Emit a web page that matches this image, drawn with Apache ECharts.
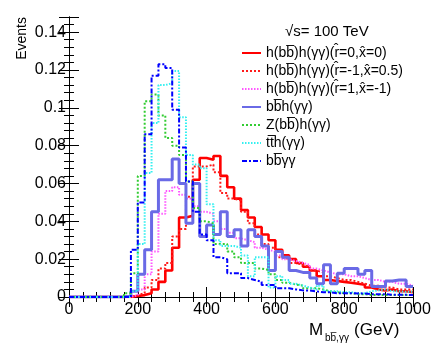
<!DOCTYPE html>
<html>
<head>
<meta charset="utf-8">
<script src="https://cdn.jsdelivr.net/npm/echarts@6/dist/echarts.min.js"></script>
<style>
  html, body { margin: 0; padding: 0; background: #fff; }
  #main { width: 436px; height: 354px; }
</style>
</head>
<body>
<div id="main"></div>
<script>
// bins of 20 GeV from 0 to 1000
const binWidth = 20;
const xMin = 0;
const xMax = 1000;

const seriesNames = [
  'h(bb\u0305)h(\u03b3\u03b3)(r\u0302=0,x\u0302=0)',
  'h(bb\u0305)h(\u03b3\u03b3)(r\u0302=-1,x\u0302=0.5)',
  'h(bb\u0305)h(\u03b3\u03b3)(r\u0302=1,x\u0302=-1)',
  'bb\u0305h(\u03b3\u03b3)',
  'Z(bb\u0305)h(\u03b3\u03b3)',
  'tt\u0305h(\u03b3\u03b3)',
  'bb\u0305\u03b3\u03b3'
];

// normalised event fractions per bin
const hhR0X0 = [0, 0, 0, 0, 0, 0, 0, 0, 0, 0.0005,
  0.001, 0.002, 0.004, 0.008, 0.014, 0.026, 0.042, 0.043, 0.062, 0.0735,
  0.0725, 0.0745, 0.064, 0.058, 0.052, 0.046, 0.042, 0.037, 0.033, 0.030,
  0.025, 0.022, 0.020, 0.018, 0.016, 0.014, 0.011, 0.009, 0.0085, 0.008,
  0.0075, 0.007, 0.0065, 0.005, 0.004, 0.0035, 0.004, 0.003, 0.003, 0.0025];

const hhRm1X05 = [0, 0, 0, 0, 0, 0, 0, 0, 0, 0.001,
  0.002, 0.005, 0.009, 0.015, 0.018, 0.032, 0.036, 0.053, 0.069, 0.069,
  0.070, 0.066, 0.055, 0.052, 0.051, 0.045, 0.039, 0.033, 0.028, 0.026,
  0.021, 0.020, 0.018, 0.017, 0.016, 0.014, 0.013, 0.011, 0.010, 0.009,
  0.009, 0.008, 0.007, 0.006, 0.006, 0.005, 0.005, 0.004, 0.004, 0.004];

const hhR1Xm1 = [0, 0, 0, 0, 0, 0, 0, 0, 0, 0.001,
  0.004, 0.012, 0.024, 0.044, 0.056, 0.058, 0.054, 0.052, 0.048, 0.045,
  0.044, 0.040, 0.036, 0.034, 0.031, 0.030, 0.029, 0.026, 0.025, 0.024,
  0.022, 0.020, 0.019, 0.018, 0.017, 0.015, 0.014, 0.013, 0.012, 0.012,
  0.011, 0.011, 0.010, 0.009, 0.009, 0.008, 0.008, 0.007, 0.007, 0.006];

const bbh = [0, 0, 0, 0, 0, 0, 0, 0, 0.001, 0.003,
  0.012, 0.025, 0.045, 0.062, 0.062, 0.073, 0.060, 0.039, 0.060, 0.032,
  0.038, 0.033, 0.045, 0.032, 0.0355, 0.027, 0.0355, 0.032, 0.027, 0.014,
  0.024, 0.021, 0.014, 0.013, 0.013, 0.010, 0.007, 0.017, 0.007, 0.0125,
  0.015, 0.015, 0.012, 0.014, 0.0055, 0.0055, 0.0085, 0.009, 0.009, 0.0055];

const zh = [0, 0, 0, 0, 0, 0, 0, 0, 0.002, 0.0125,
  0.064, 0.1035, 0.107, 0.096, 0.084, 0.080, 0.075, 0.061, 0.047, 0.040,
  0.039, 0.028, 0.028, 0.024, 0.021, 0.018, 0.018, 0.015, 0.0143, 0.012,
  0.009, 0.0075, 0.0065, 0.006, 0.0046, 0.0046, 0.004, 0.003, 0.0025, 0.002,
  0.002, 0.0015, 0.0015, 0.001, 0.001, 0.001, 0.001, 0.001, 0.001, 0.001];

const tth = [0, 0, 0, 0, 0, 0, 0, 0, 0, 0.003,
  0.028, 0.0656, 0.092, 0.112, 0.113, 0.1195, 0.095, 0.075, 0.070, 0.068,
  0.049, 0.030, 0.027, 0.027, 0.026, 0.022, 0.011, 0.021, 0.021, 0.005,
  0.011, 0.009, 0.007, 0.006, 0.005, 0.004, 0.006, 0.003, 0.003, 0.0025,
  0.0025, 0.002, 0.002, 0.003, 0.0035, 0.004, 0.003, 0.003, 0.0028, 0.0028];

const bbgg = [0, 0, 0, 0, 0, 0, 0, 0, 0, 0.025,
  0.050, 0.086, 0.117, 0.123, 0.121, 0.099, 0.079, 0.061, 0.045, 0.033,
  0.030, 0.021, 0.020, 0.0125, 0.0125, 0.010, 0.009, 0.008, 0.0064, 0.0064,
  0.0046, 0.0046, 0.004, 0.0035, 0.0034, 0.003, 0.0025, 0.0025, 0.002, 0.002,
  0.002, 0.0018, 0.0018, 0.0015, 0.0015, 0.0015, 0.0012, 0.0012, 0.0012, 0.001];

const yTickLabels = ['0', '0.02', '0.04', '0.06', '0.08', '0.1', '0.12', '0.14'];
const xTickLabels = ['0', '200', '400', '600', '800', '1000'];

// histogram -> step line points (left edge of each bin, plus closing edge)
function toSteps(vals) {
  const pts = vals.map((v, i) => [xMin + i * binWidth, v]);
  pts.push([xMin + vals.length * binWidth, vals[vals.length - 1]]);
  return pts;
}

const styles = [
  { color: '#ff0000', width: 2.6, type: 'solid' },
  { color: '#ff1a1a', width: 2, type: [2, 2] },
  { color: '#ff55ff', width: 2, type: [1.5, 1.5] },
  { color: '#6a6ae6', width: 3, type: 'solid' },
  { color: '#33cc33', width: 2, type: [2, 2] },
  { color: '#33f0f0', width: 2, type: [1.5, 1.5] },
  { color: '#0000ff', width: 2, type: [5, 2, 2, 2] }
];
const allData = [hhR0X0, hhRm1X05, hhR1Xm1, bbh, zh, tth, bbgg];

const font = 'Liberation Sans, Arial, sans-serif';
const myChart = echarts.init(document.getElementById('main'));

const tickCommon = {
  axisLine: { show: true, lineStyle: { color: '#000', width: 1 } },
  splitLine: { show: false },
  minorSplitLine: { show: false }
};

const option = {
  animation: false,
  grid: { left: 69, right: 23, top: 17, bottom: 57 },
  legend: {
    orient: 'vertical',
    left: 236,
    top: 41,
    itemWidth: 19,
    itemHeight: 10,
    itemGap: 4,
    itemStyle: { opacity: 0 },
    textStyle: { fontFamily: font, fontSize: 14, color: '#000' },
    data: seriesNames
  },
  xAxis: [
    Object.assign({
      type: 'value', min: xMin, max: xMax, interval: 200, position: 'bottom',
      axisTick: { show: true, inside: true, length: 10, lineStyle: { color: '#000' } },
      minorTick: { show: true, splitNumber: 5, length: 5, lineStyle: { color: '#000' } },
      axisLabel: {
        fontFamily: font, fontSize: 16, color: '#000', margin: 5,
        formatter: (v) => xTickLabels[Math.round(v / 200)] ?? ''
      }
    }, tickCommon),
    Object.assign({
      type: 'value', min: xMin, max: xMax, interval: 200, position: 'top',
      axisTick: { show: true, inside: true, length: 10, lineStyle: { color: '#000' } },
      minorTick: { show: true, splitNumber: 5, length: 5, lineStyle: { color: '#000' } },
      axisLabel: { show: false }
    }, tickCommon)
  ],
  yAxis: [
    Object.assign({
      type: 'value', min: 0, max: 0.148, interval: 0.02, position: 'left',
      axisTick: { show: true, inside: true, length: 10, lineStyle: { color: '#000' } },
      minorTick: { show: true, splitNumber: 5, length: 5, lineStyle: { color: '#000' } },
      axisLabel: {
        fontFamily: font, fontSize: 16, color: '#000', margin: 3, showMaxLabel: false,
        formatter: (v) => yTickLabels[Math.round(v / 0.02)] ?? ''
      }
    }, tickCommon),
    Object.assign({
      type: 'value', min: 0, max: 0.148, interval: 0.02, position: 'right',
      axisTick: { show: true, inside: true, length: 10, lineStyle: { color: '#000' } },
      minorTick: { show: true, splitNumber: 5, length: 5, lineStyle: { color: '#000' } },
      axisLabel: { show: false }
    }, tickCommon)
  ],
  graphic: [
    {
      type: 'text', x: 29, y: 17, rotation: Math.PI / 2,
      style: { text: 'Events', font: '14px ' + font, fill: '#000', align: 'right', verticalAlign: 'bottom' }
    },
    {
      type: 'text', x: 285, y: 24,
      style: { text: '\u221as= 100 TeV', font: '15px ' + font, fill: '#000' }
    },
    {
      type: 'text', x: 309, y: 322,
      style: { text: 'M', font: '17px ' + font, fill: '#000' }
    },
    {
      type: 'text', x: 325, y: 333,
      style: { text: 'bb\u0305,\u03b3\u03b3', font: '10px ' + font, fill: '#000' }
    },
    {
      type: 'text', x: 354, y: 322,
      style: { text: '(GeV)', font: '17px ' + font, fill: '#000' }
    }
  ],
  series: allData.map((vals, i) => ({
    name: seriesNames[i],
    type: 'line',
    step: 'end',
    showSymbol: false,
    symbol: 'none',
    data: toSteps(vals),
    lineStyle: styles[i],
    itemStyle: { color: styles[i].color },
    z: 2 + i
  }))
};

myChart.setOption(option);
</script>
</body>
</html>
